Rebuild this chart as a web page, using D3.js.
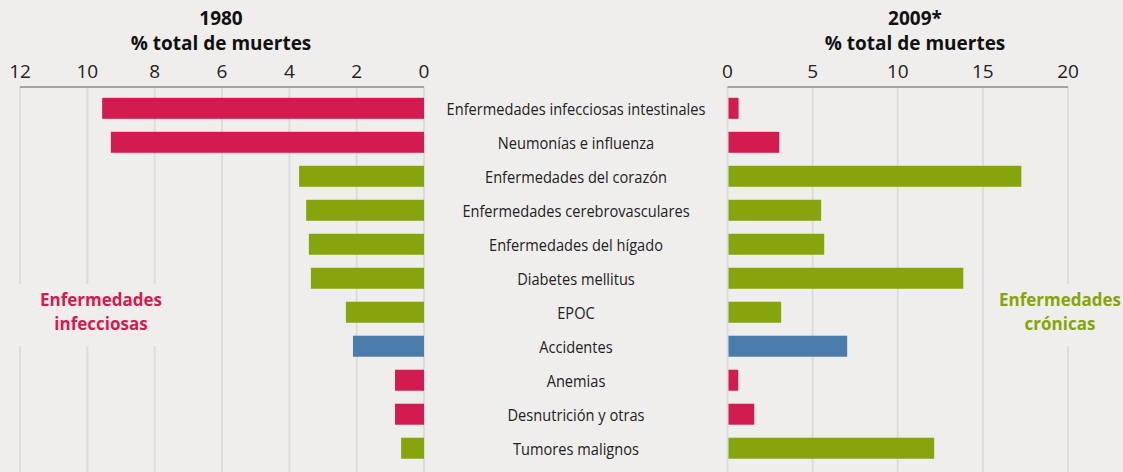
<!DOCTYPE html>
<meta charset="utf-8">
<style>
body { margin: 0; background: #efeeec; }
svg { display: block; font-family: 'Open Sans', Arial, sans-serif; }
.grid { stroke: #dcdcdc; stroke-width: 2; }
.axis-line { stroke: #a3a3a3; stroke-width: 2; }
.tick-label { font-size: 19px; fill: #222; text-anchor: middle; }
.title { font-size: 19px; font-weight: bold; fill: #111; text-anchor: middle; }
.cat { font-size: 16.5px; fill: #222; text-anchor: middle; }
.group { font-size: 17px; font-weight: bold; text-anchor: middle; }
</style>
<svg width="1123" height="472"></svg>
<script src="https://d3js.org/d3.v7.min.js"></script>
<script>

var categories = ["Enfermedades infecciosas intestinales", "Neumonías e influenza",
  "Enfermedades del corazón", "Enfermedades cerebrovasculares", "Enfermedades del hígado",
  "Diabetes mellitus", "EPOC", "Accidentes", "Anemias", "Desnutrición y otras", "Tumores malignos"];
var types = ["inf", "inf", "cro", "cro", "cro", "cro", "cro", "acc", "inf", "inf", "cro"];
var values1980 = [9.56, 9.3, 3.71, 3.5, 3.42, 3.36, 2.32, 2.11, 0.86, 0.86, 0.68];
var values2009 = [0.65, 3.04, 17.26, 5.5, 5.68, 13.85, 3.15, 7.03, 0.63, 1.57, 12.14];
var ticks1980 = [12, 10, 8, 6, 4, 2, 0];
var ticks2009 = [0, 5, 10, 15, 20];

var colors = {inf: "#d31b50", cro: "#86a40b", acc: "#4a7cab"};

var svg = d3.select("svg"),
    width = +svg.attr("width"),
    height = +svg.attr("height");

var axisY = 87;

var xLeft = d3.scaleLinear().domain([0, 12]).range([424, 20]);
var xRight = d3.scaleLinear().domain([0, 20]).range([727.5, 1068]);

var y = d3.scaleBand()
    .domain(categories)
    .range([91, 465.5])
    .paddingInner(0.382)
    .paddingOuter(0.2);

// gridlines, some with a gap where the group labels sit
function gridLine(x, gap) {
  if (gap) {
    svg.append("line").attr("class", "grid")
        .attr("x1", x).attr("x2", x).attr("y1", axisY).attr("y2", 284);
    svg.append("line").attr("class", "grid")
        .attr("x1", x).attr("x2", x).attr("y1", 346).attr("y2", height);
  } else {
    svg.append("line").attr("class", "grid")
        .attr("x1", x).attr("x2", x).attr("y1", axisY).attr("y2", height);
  }
}
ticks1980.forEach(function(t) { gridLine(xLeft(t), t >= 8); });
ticks2009.forEach(function(t) { gridLine(xRight(t), t == 20); });

svg.append("line").attr("class", "axis-line")
    .attr("x1", xLeft(12)).attr("x2", xLeft(0)).attr("y1", axisY).attr("y2", axisY);
svg.append("line").attr("class", "axis-line")
    .attr("x1", xRight(0)).attr("x2", xRight(20)).attr("y1", axisY).attr("y2", axisY);

svg.selectAll(".tl").data(ticks1980).enter().append("text")
    .attr("class", "tick-label")
    .attr("x", function(d) { return xLeft(d); })
    .attr("y", 78)
    .text(function(d) { return d; });

svg.selectAll(".tr").data(ticks2009).enter().append("text")
    .attr("class", "tick-label")
    .attr("x", function(d) { return xRight(d); })
    .attr("y", 78)
    .text(function(d) { return d; });

// titles
svg.append("text").attr("class", "title").attr("x", 221).attr("y", 25).text("1980");
svg.append("text").attr("class", "title").attr("x", 221).attr("y", 50).text("% total de muertes");
svg.append("text").attr("class", "title").attr("x", 915).attr("y", 25).text("2009*");
svg.append("text").attr("class", "title").attr("x", 915).attr("y", 50).text("% total de muertes");

// bars
svg.selectAll(".bl").data(categories).enter().append("rect")
    .attr("x", function(d, i) { return xLeft(values1980[i]); })
    .attr("y", function(d) { return y(d); })
    .attr("width", function(d, i) { return xLeft(0) - xLeft(values1980[i]); })
    .attr("height", y.bandwidth())
    .attr("fill", function(d, i) { return colors[types[i]]; });

svg.selectAll(".br").data(categories).enter().append("rect")
    .attr("x", xRight(0) + 1)
    .attr("y", function(d) { return y(d); })
    .attr("width", function(d, i) { return xRight(values2009[i]) - xRight(0) - 1; })
    .attr("height", y.bandwidth())
    .attr("fill", function(d, i) { return colors[types[i]]; });

// category labels, squeezed horizontally to look like a condensed face
var labelX = 576;
var labels = svg.append("g");
labels.selectAll("text").data(categories).enter().append("text")
    .attr("class", "cat")
    .attr("x", 0)
    .attr("y", function(d) { return y(d) + y.bandwidth() / 2 + 7; })
    .text(function(d) { return d; });
var maxW = d3.max(labels.selectAll("text").nodes(), function(n) { return n.getComputedTextLength(); });
var k = Math.min(1, 259 / maxW);
labels.attr("transform", "translate(" + labelX + ",0) scale(" + k + ",1)");

// group labels
svg.append("text").attr("class", "group").attr("fill", colors.inf)
    .attr("x", 101).attr("y", 306).text("Enfermedades");
svg.append("text").attr("class", "group").attr("fill", colors.inf)
    .attr("x", 101).attr("y", 330).text("infecciosas");
svg.append("text").attr("class", "group").attr("fill", colors.cro)
    .attr("x", 1060).attr("y", 306).text("Enfermedades");
svg.append("text").attr("class", "group").attr("fill", colors.cro)
    .attr("x", 1060).attr("y", 330).text("crónicas");

</script>
